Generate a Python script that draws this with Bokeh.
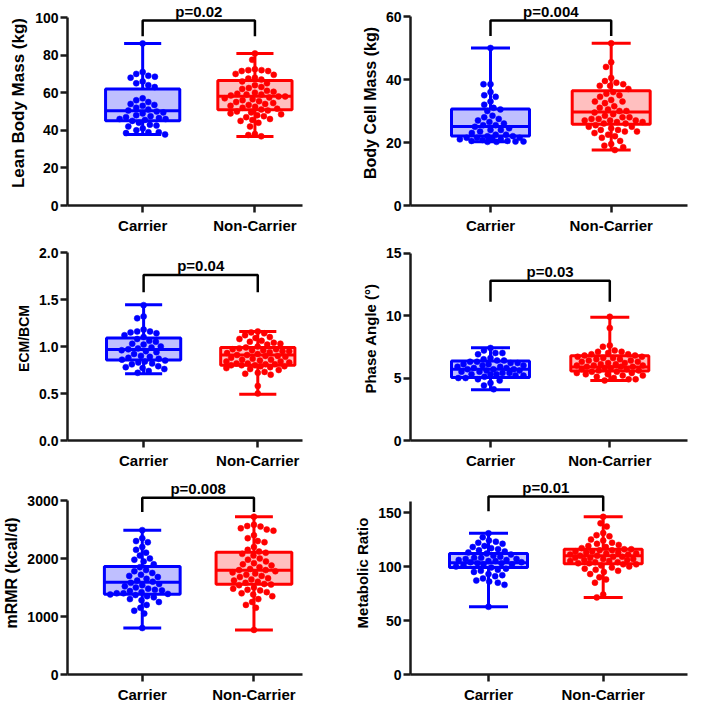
import numpy as np
from bokeh.plotting import figure
from bokeh.layouts import gridplot
from bokeh.models import Range1d, FixedTicker, Label, PrintfTickFormatter
from bokeh.embed import file_html
from bokeh.resources import INLINE

groups = ["Carrier", "Non-Carrier"]

# ---------------- data ----------------
lbm_carrier = [86.2, 71.0, 70.0, 69.0, 68.5, 68.0, 66.0, 65.0, 64.0, 63.0, 57.0, 56.0, 55.0,
               54.0, 53.5, 53.0, 52.0, 51.0, 50.5, 50.0, 49.5, 49.0, 48.0, 47.5, 47.0, 46.5,
               46.0, 46.0, 45.5, 45.0, 44.0, 43.0, 42.5, 42.0, 41.0, 40.0, 39.0, 39.0, 38.5, 37.8]
lbm_noncarrier = [80.9, 77.5, 72.5, 72.0, 72.0, 71.5, 71.5, 70.0, 69.5, 68.0, 67.5, 67.0, 66.0,
                  65.0, 64.0, 63.0, 62.5, 62.0, 61.0, 60.5, 60.0, 59.5, 59.0, 59.0, 58.5, 58.0,
                  58.0, 57.5, 57.0, 56.5, 56.0, 55.5, 55.0, 54.5, 54.0, 53.5, 53.0, 52.5, 52.0,
                  51.5, 51.0, 50.5, 50.0, 49.5, 49.0, 48.5, 48.0, 47.5, 47.0, 46.0, 45.5, 45.0,
                  44.0, 42.0, 38.0, 37.5, 36.8]
lbm_carrier_box = [37.7, 45.1, 50.4, 62.0, 86.2]      # min, q1, median, q3, max
lbm_noncarrier_box = [36.7, 50.9, 58.1, 66.5, 80.9]

bcm_carrier = [50.0, 38.5, 38.5, 36.0, 35.0, 34.5, 33.0, 32.0, 31.0, 30.5, 30.0, 28.5, 28.0,
               27.5, 27.0, 26.5, 26.0, 25.5, 25.5, 25.0, 24.5, 24.0, 24.0, 23.5, 23.0, 22.5,
               22.5, 22.0, 22.0, 21.5, 21.5, 21.5, 21.0, 21.0, 21.0, 20.8, 20.5, 20.5, 20.3,
               20.3, 20.2, 20.2]
bcm_noncarrier = [51.5, 45.5, 44.0, 40.5, 39.5, 39.0, 38.5, 38.0, 38.0, 37.0, 36.0, 35.5, 35.0,
                  34.5, 33.5, 33.0, 33.0, 32.5, 31.5, 31.0, 30.5, 30.0, 30.0, 29.5, 29.0, 28.5,
                  28.0, 28.0, 27.5, 27.5, 27.0, 27.0, 27.0, 26.5, 26.5, 26.0, 26.0, 25.5, 25.0,
                  25.0, 24.5, 24.0, 24.0, 23.5, 23.5, 23.0, 22.5, 22.0, 21.5, 20.5, 19.5, 19.0,
                  18.5, 17.6]
bcm_carrier_box = [20.2, 22.1, 25.1, 30.6, 50.0]
bcm_noncarrier_box = [17.6, 25.8, 29.7, 36.4, 51.5]

ecm_carrier = [1.44, 1.32, 1.30, 1.18, 1.16, 1.16, 1.15, 1.14, 1.12, 1.10, 1.08, 1.06, 1.05,
               1.03, 1.02, 1.00, 0.99, 0.98, 0.97, 0.96, 0.95, 0.94, 0.92, 0.90, 0.89, 0.88,
               0.87, 0.86, 0.85, 0.84, 0.83, 0.82, 0.81, 0.79, 0.78, 0.77, 0.76, 0.74, 0.72]
ecm_noncarrier = [1.16, 1.15, 1.14, 1.12, 1.10, 1.09, 1.08, 1.06, 1.05, 1.04, 1.03, 1.02, 1.00,
                  0.99, 0.98, 0.97, 0.97, 0.96, 0.96, 0.95, 0.95, 0.94, 0.93, 0.92, 0.91, 0.91,
                  0.90, 0.90, 0.89, 0.88, 0.87, 0.86, 0.86, 0.85, 0.84, 0.84, 0.83, 0.82, 0.82,
                  0.81, 0.81, 0.80, 0.80, 0.80, 0.79, 0.79, 0.78, 0.77, 0.76, 0.75, 0.73, 0.72,
                  0.71, 0.70, 0.58, 0.50]
ecm_carrier_box = [0.71, 0.857, 0.969, 1.09, 1.445]
ecm_noncarrier_box = [0.493, 0.80, 0.91, 0.99, 1.16]

pa_carrier = [7.4, 7.2, 7.0, 7.0, 6.9, 6.6, 6.5, 6.4, 6.4, 6.3, 6.3, 6.2, 6.2, 6.1, 6.1, 6.0,
              6.0, 5.9, 5.9, 5.8, 5.8, 5.7, 5.7, 5.7, 5.6, 5.6, 5.5, 5.5, 5.4, 5.4, 5.3, 5.3,
              5.3, 5.2, 5.2, 5.1, 5.0, 5.0, 4.9, 4.8, 4.6, 4.4, 4.1]
pa_noncarrier = [9.9, 9.0, 7.6, 7.5, 7.2, 7.1, 7.1, 7.0, 6.9, 6.9, 6.8, 6.8, 6.7, 6.7, 6.6,
                 6.6, 6.5, 6.5, 6.4, 6.4, 6.3, 6.3, 6.2, 6.2, 6.1, 6.1, 6.0, 6.0, 6.0, 5.9,
                 5.9, 5.9, 5.8, 5.8, 5.7, 5.7, 5.6, 5.6, 5.5, 5.5, 5.4, 5.4, 5.3, 5.3, 5.2,
                 5.2, 5.1, 5.0, 4.9, 4.9, 4.8]
pa_carrier_box = [4.07, 5.05, 5.70, 6.37, 7.42]
pa_noncarrier_box = [4.8, 5.57, 5.88, 6.78, 9.87]

mrmr_carrier = [2489, 2350, 2300, 2280, 2200, 2150, 2100, 2050, 2000, 1980, 1950, 1900, 1850,
                1800, 1780, 1750, 1720, 1700, 1680, 1650, 1620, 1600, 1580, 1560, 1540, 1520,
                1500, 1480, 1460, 1450, 1440, 1420, 1400, 1400, 1390, 1380, 1370, 1350, 1330,
                1300, 1280, 1250, 1200, 1150, 1100, 1050, 801]
mrmr_noncarrier = [2720, 2580, 2560, 2550, 2520, 2500, 2480, 2400, 2350, 2300, 2280, 2200,
                   2150, 2120, 2100, 2080, 2050, 2000, 1980, 1950, 1920, 1900, 1880, 1850,
                   1820, 1800, 1800, 1780, 1760, 1740, 1720, 1700, 1680, 1660, 1640, 1620,
                   1600, 1580, 1560, 1550, 1540, 1500, 1480, 1460, 1450, 1420, 1400, 1380,
                   1350, 1300, 1250, 1200, 1150, 769]
mrmr_carrier_box = [801, 1382, 1591, 1860, 2489]
mrmr_noncarrier_box = [769, 1554, 1796, 2107, 2720]

mr_carrier = [130.7, 127, 124, 123, 122, 121, 119, 118, 117, 116, 115, 114, 113, 112, 111,
              110, 109, 108, 108, 107, 107, 106, 106, 105, 105, 104, 104, 103, 103, 102, 102,
              101, 100, 99, 98, 97, 96, 95, 93, 92, 91, 89, 87, 86, 85, 83, 62.7]
mr_noncarrier = [146, 140, 137, 131, 129, 128, 125, 124, 122, 121, 120, 119, 118, 117, 116,
                 116, 115, 115, 114, 114, 113, 113, 112, 112, 111, 111, 110, 110, 109, 109,
                 108, 108, 107, 107, 106, 106, 105, 105, 104, 104, 103, 103, 102, 102, 101,
                 100, 99, 98, 97, 96, 95, 93, 90, 88, 85, 74, 71.4]
mr_carrier_box = [62.7, 99.0, 103.5, 112.0, 130.7]
mr_noncarrier_box = [71.4, 102.6, 110.0, 116.0, 146.0]

y_titles = ["Lean Body Mass (kg)", "Body Cell Mass (kg)", "ECM/BCM", "Phase Angle (°)",
            "mRMR (kcal/d)", "Metabolic Ratio"]
y_ticks = [[0, 20, 40, 60, 80, 100], [0, 20, 40, 60], [0.0, 0.5, 1.0, 1.5, 2.0],
           [0, 5, 10, 15], [0, 1000, 2000, 3000], [0, 50, 100, 150]]
y_axis_top = [100, 60, 2.0, 15, 3000, 160]
p_texts = ["p=0.02", "p=0.004", "p=0.04", "p=0.03", "p=0.008", "p=0.01"]
bracket_top = [98.4, 58.7, 1.76, 12.78, 3048, 164.8]
bracket_leg = [90.0, 53.8, 1.576, 11.1, 2801, 151.2]

# ---------------- layout / style ----------------
BLUE = "#0000ff"
RED = "#ff0000"
AXIS = "#1a1a1a"
FONT = "Liberation Sans"

col_w = [350, 339]
row_h = [236, 235, 234]
border_bottom = 31
title_size = ["17px", "16px", "14px", "15px", "16px", "15px"]
# per panel: min_border_left, min_border_right, px per y unit, px per x unit, px from frame left to Carrier
geo = [
    (55, 48, 1.88, 118, 79),
    (60, 2, 3.15, 120.7, 80),
    (55, 48, 94.0, 120, 80),
    (60, 2, 12.5, 119.3, 80),
    (60, 48, 0.058, 115, 77),
    (60, 2, 1.08, 114.7, 78),
]

datasets = [
    (lbm_carrier, lbm_noncarrier, lbm_carrier_box, lbm_noncarrier_box),
    (bcm_carrier, bcm_noncarrier, bcm_carrier_box, bcm_noncarrier_box),
    (ecm_carrier, ecm_noncarrier, ecm_carrier_box, ecm_noncarrier_box),
    (pa_carrier, pa_noncarrier, pa_carrier_box, pa_noncarrier_box),
    (mrmr_carrier, mrmr_noncarrier, mrmr_carrier_box, mrmr_noncarrier_box),
    (mr_carrier, mr_noncarrier, mr_carrier_box, mr_noncarrier_box),
]


def swarm(vals, ppu_y, d=7.0, lim=33.0):
    """Deterministic beeswarm offsets in pixels, kept inside +/- lim."""
    ys = np.asarray(vals, dtype=float) * ppu_y
    order = np.argsort(-ys)
    placed = []
    xs = np.zeros(len(ys))
    grid = np.linspace(-lim, lim, 67)
    for i in order:
        y = ys[i]
        near = [(px, py) for px, py in placed if abs(py - y) < d]
        cands = [0.0]
        for px, py in near:
            w = np.sqrt(max(d * d - (py - y) ** 2, 0.0))
            cands += [px - w - 0.01, px + w + 0.01]
        cands = sorted([cc for cc in cands if abs(cc) <= lim], key=lambda cc: (abs(cc), cc))
        chosen = None
        for cc in cands:
            if all((cc - px) ** 2 + (y - py) ** 2 >= d * d - 1e-6 for px, py in near):
                chosen = cc
                break
        if chosen is None:
            best = -1.0
            for g in grid:
                md = min((g - px) ** 2 + (y - py) ** 2 for px, py in near)
                if md > best + 1e-9:
                    best, chosen = md, g
        xs[i] = chosen
        placed.append((chosen, y))
    return xs


figs = []
for k in range(6):
    r, c = divmod(k, 2)
    W, H = col_w[c], row_h[r]
    bl, br_, ppu_y, ppu_x, off = geo[k]
    fw = W - bl - br_
    fh = H - border_bottom
    x0 = 1 - off / ppu_x
    p = figure(width=W, height=H, output_backend="svg", toolbar_location=None,
               x_range=Range1d(x0, x0 + fw / ppu_x), y_range=Range1d(0, fh / ppu_y),
               min_border_left=bl, min_border_right=br_, min_border_top=0,
               min_border_bottom=border_bottom)
    p.outline_line_color = None
    p.xgrid.visible = False
    p.ygrid.visible = False
    p.background_fill_color = "white"
    p.border_fill_color = "white"

    c_vals, n_vals, c_box, n_box = datasets[k]
    bw = 78 / ppu_x
    cw = 39 / ppu_x
    for xi, vals, box, col in ((1, c_vals, c_box, BLUE), (2, n_vals, n_box, RED)):
        mn, q1, med, q3, mx = box
        p.segment(x0=[xi, xi], y0=[q3, q1], x1=[xi, xi], y1=[mx, mn], line_color=col, line_width=3)
        p.segment(x0=[xi - cw / 2] * 2, y0=[mx, mn], x1=[xi + cw / 2] * 2, y1=[mx, mn],
                  line_color=col, line_width=3)
        p.quad(left=[xi - bw / 2], right=[xi + bw / 2], bottom=[q1], top=[q3],
               fill_color=col, fill_alpha=0.25, line_color=col, line_width=3)
        p.segment(x0=[xi - bw / 2], y0=[med], x1=[xi + bw / 2], y1=[med],
                  line_color=col, line_width=3)
        offs = swarm(vals, ppu_y) / ppu_x
        p.scatter(x=xi + offs, y=vals, size=6, fill_color=col, line_color=col, line_width=0.5)

    bt, bl_ = bracket_top[k], bracket_leg[k]
    p.line(x=[1, 1, 2, 2], y=[bl_, bt, bt, bl_], line_color="black", line_width=2.5)
    p.add_layout(Label(x=1.5, y=bt, text=p_texts[k], text_align="center",
                       text_baseline="bottom", y_offset=1, text_font=FONT,
                       text_font_style="bold", text_font_size="15px", text_color="black"))

    # x axis
    xa = p.xaxis[0]
    xa.ticker = FixedTicker(ticks=[1, 2], minor_ticks=[])
    xa.major_label_overrides = {1: groups[0], 2: groups[1]}
    xa.major_label_text_font = FONT
    xa.major_label_text_font_style = "bold"
    xa.major_label_text_font_size = "15px"
    xa.major_label_text_color = "black"
    xa.major_label_standoff = 4
    # y axis
    ya = p.yaxis[0]
    ya.ticker = FixedTicker(ticks=y_ticks[k], minor_ticks=[])
    ya.bounds = (0, y_axis_top[k])
    if k == 2:
        ya.formatter = PrintfTickFormatter(format="%.1f")
    ya.axis_label = y_titles[k]
    ya.axis_label_text_font = FONT
    ya.axis_label_text_font_style = "bold"
    ya.axis_label_text_font_size = title_size[k]
    ya.axis_label_text_color = "black"
    ya.axis_label_standoff = 4
    ya.major_label_text_font = FONT
    ya.major_label_text_font_style = "bold"
    ya.major_label_text_font_size = "14px"
    ya.major_label_text_color = "black"
    ya.major_label_standoff = 2
    for ax in (xa, ya):
        ax.axis_line_color = AXIS
        ax.axis_line_width = 2.5
        ax.major_tick_line_color = AXIS
        ax.major_tick_line_width = 2.5
        ax.major_tick_out = 7
        ax.major_tick_in = 0
        ax.minor_tick_line_color = None
    figs.append(p)

grid = gridplot([[figs[0], figs[1]], [figs[2], figs[3]], [figs[4], figs[5]]],
                toolbar_location=None)

open("out.html", "w").write(file_html(grid, INLINE))
